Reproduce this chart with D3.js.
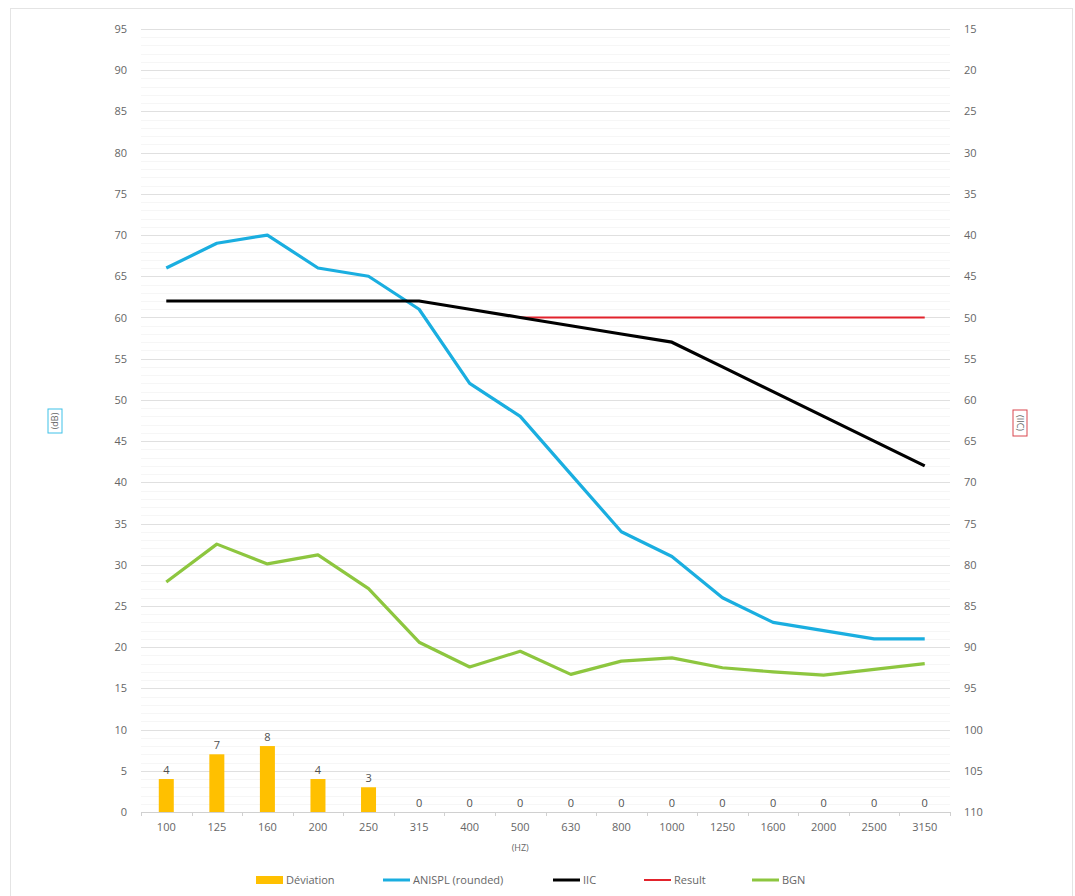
<!DOCTYPE html>
<html>
<head>
<meta charset="utf-8">
<script src="https://cdn.jsdelivr.net/npm/d3@7"></script>
<style>
  body { margin: 0; background: #fff; }
  text { font-family: "Open Sans", "Liberation Sans", sans-serif; }
</style>
</head>
<body>
<div id="chart"></div>
<script>
// data
const freqs = ["100","125","160","200","250","315","400","500","630","800","1000","1250","1600","2000","2500","3150"];
const deviation = [4, 7, 8, 4, 3, 0, 0, 0, 0, 0, 0, 0, 0, 0, 0, 0];
const anispl = [66, 69, 70, 66, 65, 61, 52, 48, 41, 34, 31, 26, 23, 22, 21, 21];
// IIC contour on the IIC (right, reversed) axis
const iic = [48, 48, 48, 48, 48, 48, 49, 50, 51, 52, 53, 56, 59, 62, 65, 68];
const resultStart = 7; // from 500 Hz
const resultIIC = 50;
const bgn = [27.9, 32.5, 30.1, 31.2, 27.1, 20.6, 17.6, 19.5, 16.7, 18.3, 18.7, 17.5, 17.0, 16.6, 17.3, 18.0];
const leftTicks = d3.range(0, 96, 5);
const rightTicks = d3.range(15, 111, 5);

const W = 1075, H = 896;
const margin = {top: 29, right: 125, bottom: 84, left: 141};
const width = W - margin.left - margin.right;
const height = H - margin.top - margin.bottom;

const svg = d3.select("#chart").append("svg")
    .attr("width", W).attr("height", H);

// chart frame
svg.append("rect")
    .attr("x", 10.5).attr("y", 8.5).attr("width", 1062).attr("height", 900)
    .attr("fill", "none").attr("stroke", "#e4e4e4");

const g = svg.append("g").attr("transform", `translate(${margin.left},${margin.top})`);

const x = d3.scaleBand().domain(freqs).range([0, width]);
const y = d3.scaleLinear().domain([0, 95]).range([height, 0]);
const yR = d3.scaleLinear().domain([110, 15]).range([height, 0]);

// minor + major grid
g.append("g").selectAll("line")
    .data(d3.range(0, 96, 1).filter(v => v % 5 !== 0))
    .enter().append("line")
    .attr("x1", 0).attr("x2", width)
    .attr("y1", d => Math.round(y(d)) + 0.5).attr("y2", d => Math.round(y(d)) + 0.5)
    .attr("stroke", "#f6f6f6");
g.append("g").selectAll("line")
    .data(leftTicks.filter(v => v > 0))
    .enter().append("line")
    .attr("x1", 0).attr("x2", width)
    .attr("y1", d => Math.round(y(d)) + 0.5).attr("y2", d => Math.round(y(d)) + 0.5)
    .attr("stroke", "#e0e0e0");

// left axis
const yAxis = g.append("g")
    .call(d3.axisLeft(y).tickValues(leftTicks).tickSize(0).tickPadding(14));
yAxis.select(".domain").remove();
yAxis.selectAll("text").attr("fill", "#666").style("font-size", "11px");

// right axis
const yAxisR = g.append("g").attr("transform", `translate(${width},0)`)
    .call(d3.axisRight(yR).tickValues(rightTicks).tickSize(0).tickPadding(14));
yAxisR.select(".domain").remove();
yAxisR.selectAll("text").attr("fill", "#666").style("font-size", "11px");

// bottom axis
const xAxis = g.append("g").attr("transform", `translate(0,${height})`)
    .call(d3.axisBottom(x).tickSize(0).tickPadding(11));
xAxis.select(".domain").attr("stroke", "#d0d0d0");
xAxis.selectAll("text").attr("fill", "#666").style("font-size", "11px");
g.append("g").selectAll("line")
    .data(d3.range(0, freqs.length + 1))
    .enter().append("line")
    .attr("x1", d => Math.round(d * x.step()) + 0.5).attr("x2", d => Math.round(d * x.step()) + 0.5)
    .attr("y1", height).attr("y2", height + 4)
    .attr("stroke", "#d0d0d0");

g.append("text")
    .attr("x", x("500") + x.bandwidth() / 2).attr("y", height + 39)
    .attr("text-anchor", "middle").attr("fill", "#666").style("font-size", "9px")
    .text("(HZ)");

// deviation bars
const barW = 15;
g.selectAll(".bar").data(deviation).enter().append("rect")
    .attr("x", (d, i) => x(freqs[i]) + x.bandwidth() / 2 - barW / 2)
    .attr("y", d => y(d))
    .attr("width", barW)
    .attr("height", d => height - y(d))
    .attr("fill", "#FFC000");
g.selectAll(".barlabel").data(deviation).enter().append("text")
    .attr("x", (d, i) => x(freqs[i]) + x.bandwidth() / 2)
    .attr("y", d => y(d) - 5)
    .attr("text-anchor", "middle").attr("fill", "#505050").style("font-size", "11px")
    .text(d => d);

const cx = i => x(freqs[i]) + x.bandwidth() / 2;

// lines
const lineL = d3.line().x((d, i) => cx(i)).y(d => y(d));
g.append("path").datum(anispl).attr("d", lineL)
    .attr("fill", "none").attr("stroke", "#1AAEE0").attr("stroke-width", 3.2)
    .attr("stroke-linejoin", "round");

const resultPts = freqs.map((f, i) => i).filter(i => i >= resultStart);
g.append("path").datum(resultPts)
    .attr("d", d3.line().x(i => cx(i)).y(() => yR(resultIIC)))
    .attr("fill", "none").attr("stroke", "#E2232C").attr("stroke-width", 2);

g.append("path").datum(iic)
    .attr("d", d3.line().x((d, i) => cx(i)).y(d => yR(d)))
    .attr("fill", "none").attr("stroke", "#000").attr("stroke-width", 3.2)
    .attr("stroke-linejoin", "round");

g.append("path").datum(bgn).attr("d", lineL)
    .attr("fill", "none").attr("stroke", "#8DC63F").attr("stroke-width", 3.2)
    .attr("stroke-linejoin", "round");

// axis titles
const dbT = svg.append("g").attr("transform", "translate(55,421) rotate(-90)");
dbT.append("rect").attr("x", -12).attr("y", -7).attr("width", 24).attr("height", 14)
    .attr("fill", "none").attr("stroke", "#3EC1E8").attr("stroke-width", 1);
dbT.append("text").attr("text-anchor", "middle").attr("dy", "0.35em")
    .attr("fill", "#666").style("font-size", "9px").text("(dB)");

const iicT = svg.append("g").attr("transform", "translate(1020,423) rotate(90)");
iicT.append("rect").attr("x", -13).attr("y", -7).attr("width", 26).attr("height", 14)
    .attr("fill", "none").attr("stroke", "#D9464E").attr("stroke-width", 1);
iicT.append("text").attr("text-anchor", "middle").attr("dy", "0.35em")
    .attr("fill", "#666").style("font-size", "9px").text("(IIC)");

// legend
const legendItems = [
  {name: "Déviation", color: "#FFC000", type: "bar", x: 256},
  {name: "ANISPL (rounded)", color: "#1AAEE0", type: "line", x: 383},
  {name: "IIC", color: "#000", type: "line", x: 553},
  {name: "Result", color: "#E2232C", type: "line", x: 644},
  {name: "BGN", color: "#8DC63F", type: "line", x: 752}
];
const legend = svg.append("g").attr("transform", "translate(0,880)");
legendItems.forEach(it => {
  if (it.type === "bar") {
    legend.append("rect").attr("x", it.x).attr("y", -4).attr("width", 27).attr("height", 8)
        .attr("fill", it.color);
  } else {
    legend.append("line").attr("x1", it.x).attr("x2", it.x + 27).attr("y1", 0).attr("y2", 0)
        .attr("stroke", it.color).attr("stroke-width", it.name === "Result" ? 2 : 3);
  }
  legend.append("text").attr("x", it.x + 30).attr("y", 0).attr("dy", "0.35em")
      .attr("fill", "#666").style("font-size", "11px").text(it.name);
});
</script>
</body>
</html>
